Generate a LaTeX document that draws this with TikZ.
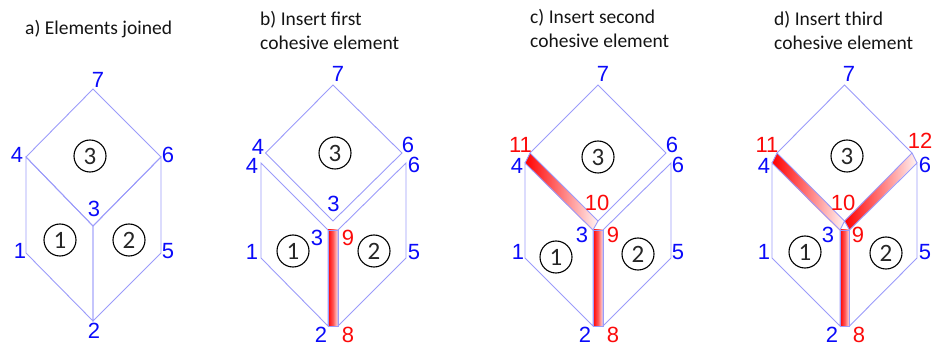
\documentclass[tikz,border=0pt]{standalone}
\usepackage{fontspec}
\setmainfont{Carlito}
\newfontfamily\numfont{Liberation Sans}
\definecolor{edgeblue}{RGB}{155,155,250}
\definecolor{numblue}{RGB}{10,10,250}
\definecolor{numred}{RGB}{252,10,10}
\definecolor{palered}{RGB}{255,232,232}
\definecolor{titleink}{RGB}{20,20,20}
\newcommand{\cohfill}[6]{%
  \begin{scope}[cm={#3/100,-#4/100,#5/100,-#6/100,(#1,#2)}]
    \shade[left color=red,right color=palered,middle color=red!62!palered] (0pt,0pt) rectangle (100pt,100pt);
  \end{scope}}
\newcommand{\cohfade}[6]{%
  \begin{scope}[cm={#3/100,-#4/100,#5/100,-#6/100,(#1,#2)}]
    \shade[left color=red,middle color=red!50!white,right color=white!96!red] (0pt,0pt) rectangle (100pt,100pt);
  \end{scope}}
\tikzset{
  mesh/.style={draw=edgeblue,line width=0.9pt,line join=miter},
  bluenum/.style={text=numblue,font=\numfont\fontsize{22}{22}\selectfont,inner sep=0pt},
  rednum/.style={text=numred,font=\numfont\fontsize{22}{22}\selectfont,inner sep=0pt},
  elemnum/.style={circle,draw=black,line width=1.1pt,minimum size=32pt,inner sep=0pt,font=\fontsize{25}{25}\selectfont,text=black!85},
  caption/.style={anchor=west,inner sep=0pt,align=left,text=titleink,font=\fontsize{19.5}{23.5}\selectfont}
}
\begin{document}
\begin{tikzpicture}[x=1pt,y=-1pt]
\useasboundingbox (0,0) rectangle (932,347);
% ---------- a
\coordinate (a1) at (26,253); \coordinate (a2) at (93,321); \coordinate (a3) at (93,226);
\coordinate (a4) at (26,157); \coordinate (a5) at (161,253); \coordinate (a6) at (161,157); \coordinate (a7) at (93,89);
\draw[mesh] (a4)--(a7)--(a6)--(a3)--cycle;
\draw[mesh] (a1)--(a4)--(a3)--(a2)--cycle;
\draw[mesh] (a3)--(a6)--(a5)--(a2)--cycle;
\node[caption] (at) at (25,29) {a) Elements joined};
\node[bluenum] (al7) at (98,80) {7}; \node[bluenum] (al4) at (17,155) {4}; \node[bluenum] (al6) at (168,155) {6};
\node[bluenum] (al3) at (94,209) {3}; \node[bluenum] (al1) at (20,251) {1}; \node[bluenum] (al5) at (168,251) {5};
\node[bluenum] (al2) at (94,331) {2};
\node[elemnum] (ae1) at (60,240) {1}; \node[elemnum] (ae2) at (129,240) {2}; \node[elemnum] (ae3) at (90,156) {3};
% ---------- b
\coordinate (b7) at (333,85); \coordinate (b4u) at (265.5,153); \coordinate (b6u) at (402,153); \coordinate (b3u) at (333,221);
\coordinate (b4) at (261,163); \coordinate (b1) at (261,258); \coordinate (b2) at (328,326); \coordinate (b3) at (328,230);
\coordinate (b9) at (338,230); \coordinate (b8) at (338,326); \coordinate (b6) at (406,163); \coordinate (b5) at (406,258);
\cohfill{328}{230}{10}{0}{0}{96}
\draw[mesh] (b4u)--(b7)--(b6u)--(b3u)--cycle;
\draw[mesh] (b1)--(b4)--(b3)--(b2)--cycle;
\draw[mesh] (b9)--(b6)--(b5)--(b8)--cycle;
\draw[mesh] (b3)--(b9)--(b8)--(b2)--cycle;
\node[caption] (bt) at (260,30.5) {b) Insert first\\cohesive element};
\node[bluenum] (bl7) at (338,74) {7}; \node[bluenum] (bl4u) at (258,147) {4}; \node[bluenum] (bl6u) at (408,145) {6};
\node[bluenum] (bl4) at (252,166) {4}; \node[bluenum] (bl6) at (414,165) {6}; \node[bluenum] (bl3u) at (333.5,204) {3};
\node[bluenum] (bl3) at (317,238) {3}; \node[rednum] (bl9) at (348,238) {9}; \node[bluenum] (bl1) at (252,252) {1};
\node[bluenum] (bl5) at (414,252) {5}; \node[bluenum] (bl2) at (321,335) {2}; \node[rednum] (bl8) at (348,335) {8};
\node[elemnum] (be1) at (293,251) {1}; \node[elemnum] (be2) at (374,251) {2}; \node[elemnum] (be3) at (335,153) {3};
% ---------- c
\coordinate (c7) at (598,85); \coordinate (c11) at (530,153); \coordinate (c6u) at (666,153); \coordinate (c10) at (598,221);
\coordinate (c4) at (525,163); \coordinate (c1) at (525,258); \coordinate (c2) at (593,326); \coordinate (c3) at (593,230);
\coordinate (c9) at (603,230); \coordinate (c8) at (603,326); \coordinate (c6) at (671,163); \coordinate (c5) at (671,258);
\cohfill{593}{230}{10}{0}{0}{96}
\cohfade{530}{153}{68}{68}{-5}{10}
\draw[mesh] (c11)--(c7)--(c6u)--(c10)--cycle;
\draw[mesh] (c1)--(c4)--(c3)--(c2)--cycle;
\draw[mesh] (c9)--(c6)--(c5)--(c8)--cycle;
\draw[mesh] (c3)--(c9)--(c8)--(c2)--cycle;
\draw[mesh] (c4)--(c11) (c3)--(c10);
\node[caption] (ct) at (530,28.5) {c) Insert second\\cohesive element};
\node[bluenum] (cl7) at (603,74) {7}; \node[rednum] (cl11) at (520.5,144.5) {11}; \node[bluenum] (cl6u) at (672,145) {6};
\node[bluenum] (cl4) at (517,165.5) {4}; \node[bluenum] (cl6) at (678,165) {6}; \node[rednum] (cl10) at (597,203) {10};
\node[bluenum] (cl3) at (582,235) {3}; \node[rednum] (cl9) at (613,235) {9}; \node[bluenum] (cl1) at (518,252) {1};
\node[bluenum] (cl5) at (678,252) {5}; \node[bluenum] (cl2) at (585,335) {2}; \node[rednum] (cl8) at (613,335) {8};
\node[elemnum] (ce1) at (556,257) {1}; \node[elemnum] (ce2) at (638,254) {2}; \node[elemnum] (ce3) at (598,157) {3};
% ---------- d
\coordinate (d7) at (844.5,85); \coordinate (d11) at (777,153); \coordinate (d12) at (912,153); \coordinate (d10) at (844.5,221);
\coordinate (d4) at (772,163); \coordinate (d1) at (772,258); \coordinate (d2) at (840,326); \coordinate (d3) at (840,230);
\coordinate (d9) at (849.5,230); \coordinate (d8) at (849.5,326); \coordinate (d6) at (917,163); \coordinate (d5) at (917,258);
\cohfill{840}{230}{9.5}{0}{0}{96}
\cohfade{777}{153}{67.5}{68}{-5}{10}
\cohfade{844.5}{221}{67.5}{-68}{5}{9}
\draw[mesh] (d11)--(d7)--(d12)--(d10)--cycle;
\draw[mesh] (d1)--(d4)--(d3)--(d2)--cycle;
\draw[mesh] (d9)--(d6)--(d5)--(d8)--cycle;
\draw[mesh] (d3)--(d9)--(d8)--(d2)--cycle;
\draw[mesh] (d4)--(d11) (d3)--(d10)--(d9) (d12)--(d6);
\node[caption] (dt) at (774,30.5) {d) Insert third\\cohesive element};
\node[bluenum] (dl7) at (849,74) {7}; \node[rednum] (dl11) at (767,144.5) {11}; \node[rednum] (dl12) at (920,141) {12};
\node[bluenum] (dl4) at (764,165.5) {4}; \node[bluenum] (dl6) at (925,165) {6}; \node[rednum] (dl10) at (843,203) {10};
\node[bluenum] (dl3) at (828,235) {3}; \node[rednum] (dl9) at (858,235) {9}; \node[bluenum] (dl1) at (764,252) {1};
\node[bluenum] (dl5) at (925,252) {5}; \node[bluenum] (dl2) at (832,335) {2}; \node[rednum] (dl8) at (859,335) {8};
\node[elemnum] (de1) at (805,252) {1}; \node[elemnum] (de2) at (886,253) {2}; \node[elemnum] (de3) at (847,156) {3};
\end{tikzpicture}
\end{document}
